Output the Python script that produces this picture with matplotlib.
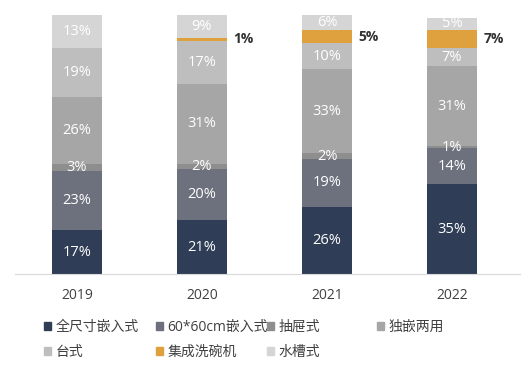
import numpy as np
import matplotlib
matplotlib.use('Agg')
import matplotlib.pyplot as plt
from matplotlib.patches import Patch

plt.rcParams['font.family'] = ['Open Sans', 'Noto Sans CJK SC', 'DejaVu Sans']

years = ['2019', '2020', '2021', '2022']
series_names = ['全尺寸嵌入式', '60*60cm嵌入式', '抽屉式', '独嵌两用', '台式', '集成洗碗机', '水槽式']
full_size = [17, 21, 26, 35]
size_6060 = [23, 20, 19, 14]
drawer = [3, 2, 2, 1]
dual_use = [26, 31, 33, 31]
countertop = [19, 17, 10, 7]
integrated = [0, 1, 5, 7]
sink = [13, 9, 6, 5]

colors = ['#2F3E56', '#6D717E', '#8E8E8E', '#A6A6A6', '#BEBEBE', '#DFA03E', '#D5D5D5']
data = [full_size, size_6060, drawer, dual_use, countertop, integrated, sink]

fig = plt.figure(figsize=(5.28, 3.68), dpi=100)
ax = fig.add_axes([15 / 528, 1 - 274 / 368, 505 / 528, 259 / 368])

x = np.arange(len(years))
bottom = np.zeros(len(years))
for name, vals, c in zip(series_names, data, colors):
    vals = np.array(vals, dtype=float)
    ax.bar(x, vals, 0.4, bottom=bottom, color=c, label=name)
    for i, v in enumerate(vals):
        if v == 0:
            continue
        if name == '集成洗碗机':
            ax.text(x[i] + 0.25, bottom[i] + v / 2, '%d%%' % v, ha='left', va='center',
                    fontsize=10, fontweight='bold', color='#333333')
        else:
            ax.text(x[i], bottom[i] + v / 2, '%d%%' % v, ha='center', va='center',
                    fontsize=10.5, color='white')
    bottom += vals

ax.set_xlim(-0.496, 3.544)
ax.set_ylim(0, 101)
ax.set_yticks([])
ax.set_xticks(x)
ax.set_xticklabels(years, fontsize=10, color='#404040')
ax.tick_params(axis='x', length=0, pad=10)
for s in ['top', 'right', 'left']:
    ax.spines[s].set_visible(False)
ax.spines['bottom'].set_color('#D9D9D9')

# 图例按行排列，每列单独放置
col_x = [34, 146, 257, 367]
for j, cx in enumerate(col_x):
    idx = [k for k in range(len(series_names)) if k % 4 == j]
    leg = fig.legend([Patch(color=colors[k]) for k in idx], [series_names[k] for k in idx],
                     loc='upper left', bbox_to_anchor=(cx / 528, 1 - 310 / 368),
                     frameon=False, fontsize=10, handlelength=0.55, handleheight=0.55,
                     handletextpad=0.3, labelspacing=0.75, borderpad=0.2)
    for t in leg.get_texts():
        t.set_color('#404040')

fig.savefig('out.png', dpi=100)
